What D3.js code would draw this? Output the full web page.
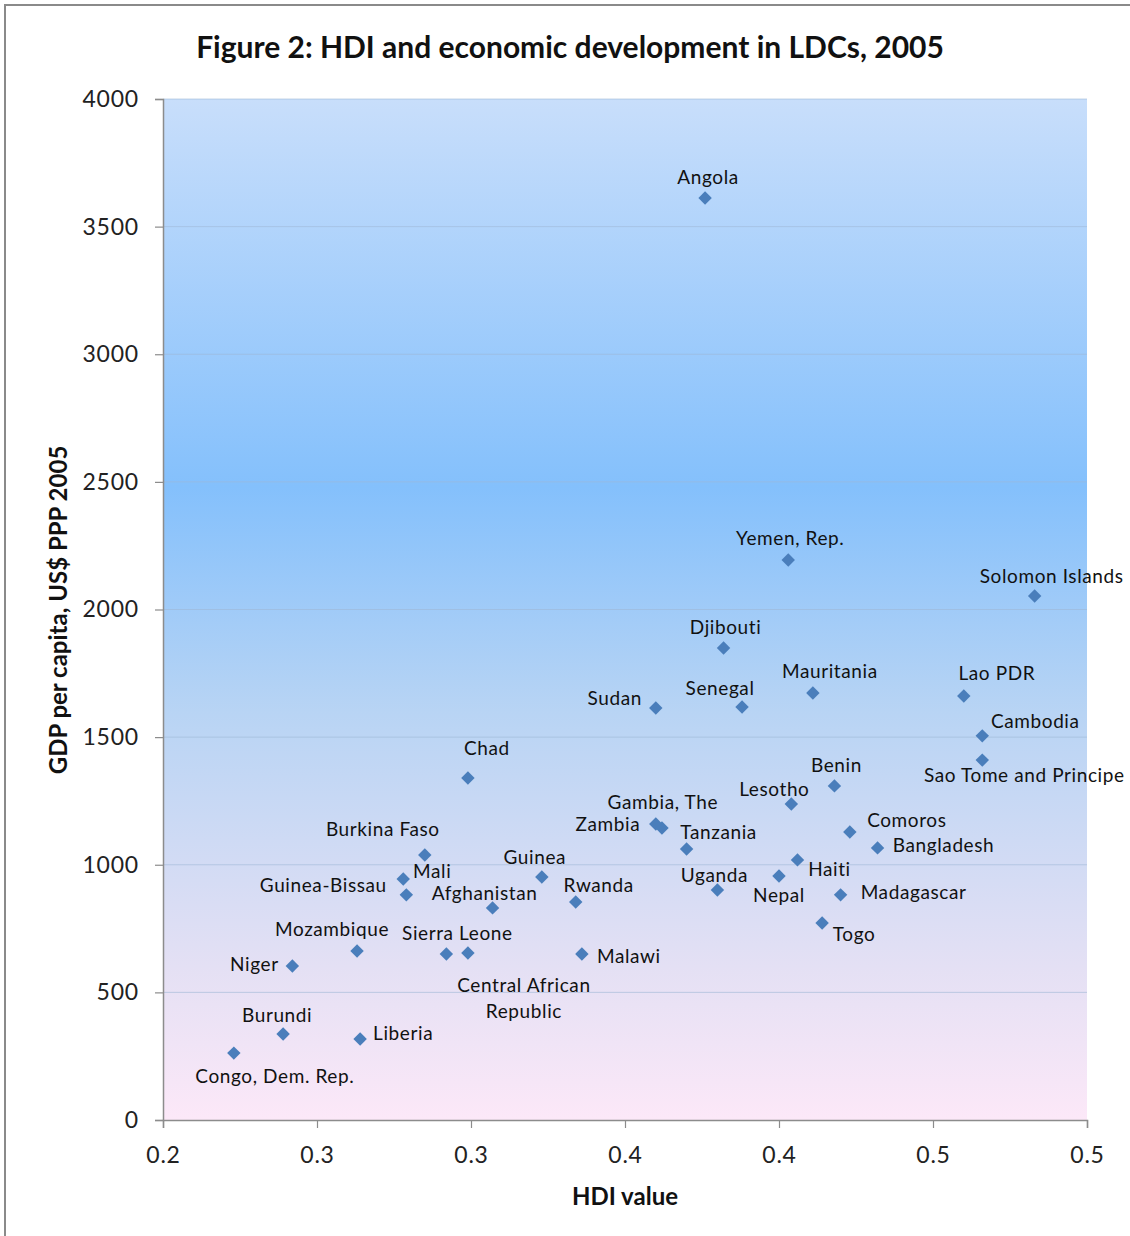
<!DOCTYPE html>
<html><head><meta charset="utf-8">
<script src="https://cdn.jsdelivr.net/npm/d3@7"></script>
<style>
html,body{margin:0;padding:0;background:#fff;}
text{font-family:Lato,"Open Sans",sans-serif;}
</style></head>
<body><svg id="c" width="1130" height="1236"></svg>
<script>
const countries = ["Angola","Yemen, Rep.","Solomon Islands","Djibouti","Mauritania","Lao PDR","Sudan","Senegal","Cambodia","Sao Tome and Principe","Chad","Benin","Lesotho","Gambia, The","Zambia","Tanzania","Comoros","Bangladesh","Haiti","Nepal","Uganda","Madagascar","Togo","Malawi","Rwanda","Burkina Faso","Mali","Guinea-Bissau","Guinea","Afghanistan","Mozambique","Sierra Leone","Central African Republic","Niger","Burundi","Liberia","Congo, Dem. Rep."];
const hdi = [0.376,0.403,0.483,0.382,0.411,0.460,0.360,0.388,0.466,0.466,0.299,0.418,0.404,0.360,0.362,0.370,0.423,0.432,0.406,0.400,0.380,0.420,0.414,0.336,0.334,0.285,0.278,0.279,0.323,0.307,0.263,0.292,0.299,0.242,0.239,0.264,0.223];
const gdp = [3612,2194,2053,1849,1673,1661,1614,1618,1505,1410,1340,1309,1238,1160,1144,1062,1128,1066,1019,956,901,882,772,650,854,1038,944,882,952,831,662,650,654,603,337,317,262];
const xTicks = [0.2,0.25,0.3,0.35,0.4,0.45,0.5];
const xTickLabels = ["0.2","0.3","0.3","0.4","0.4","0.5","0.5"];
const yTicks = [0,500,1000,1500,2000,2500,3000,3500,4000];

// label layout (offsets of label centre from the marker, px)
const labelOffsets = {
 "Angola":[3,-22],"Yemen, Rep.":[2,-22],"Solomon Islands":[17,-20],"Djibouti":[2,-22],
 "Mauritania":[17,-22],"Lao PDR":[33,-24],"Sudan":[-41,-11],"Senegal":[-22,-20],
 "Cambodia":[53,-15],"Sao Tome and Principe":[42,14],"Chad":[19,-30],"Benin":[2,-21],
 "Lesotho":[-17,-16],"Gambia, The":[7,-22],"Zambia":[-54,-4],"Tanzania":[32,-17],
 "Comoros":[57,-13],"Bangladesh":[66,-3],"Haiti":[32,9],"Nepal":[0,19],"Uganda":[-3,-16],
 "Madagascar":[73,-3],"Togo":[32,11],"Malawi":[47,1],"Rwanda":[23,-18],"Burkina Faso":[-42,-27],
 "Mali":[29,-9],"Guinea-Bissau":[-83,-10],"Guinea":[-7,-21],"Afghanistan":[-8,-15],
 "Mozambique":[-25,-23],"Sierra Leone":[11,-22],"Central African Republic":[56,31],
 "Niger":[-38,-3],"Burundi":[-6,-19],"Liberia":[43,-7],"Congo, Dem. Rep.":[41,22]
};
const labelLines = {"Central African Republic":["Central African","Republic"]};

const svg = d3.select("#c");
const L=163,R=1087,T=99,B=1120;
const x = d3.scaleLinear().domain([0.2,0.5]).range([L,R]);
const y = d3.scaleLinear().domain([0,4000]).range([B,T]);

// frame
svg.append("rect").attr("x",5).attr("y",5).attr("width",1140).attr("height",1240)
  .attr("fill","#fff").attr("stroke","#8a8a8a").attr("stroke-width",2);

// gradient
const defs = svg.append("defs");
const g = defs.append("linearGradient").attr("id","bg").attr("x1",0).attr("y1",0).attr("x2",0).attr("y2",1);
[[0,"#c8defb"],[0.38,"#84c0fc"],[0.6,"#b8d4f4"],[0.85,"#e4e0f4"],[1,"#fce8f8"]].forEach(s=>
  g.append("stop").attr("offset",s[0]).attr("stop-color",s[1]));
svg.append("rect").attr("x",L).attr("y",T).attr("width",R-L).attr("height",B-T).attr("fill","url(#bg)");

// gridlines
svg.append("g").selectAll("line").data(yTicks.filter(d=>d>0)).join("line")
  .attr("x1",L).attr("x2",R).attr("y1",d=>y(d)).attr("y2",d=>y(d))
  .attr("stroke","#9fb8d6").attr("stroke-opacity",0.6).attr("stroke-width",1);

// axes
const yAxis = svg.append("g").attr("transform",`translate(${L},0)`)
  .call(d3.axisLeft(y).tickValues(yTicks).tickSize(8).tickPadding(16).tickFormat(d3.format("d")));
const xAxis = svg.append("g").attr("transform",`translate(0,${B})`)
  .call(d3.axisBottom(x).tickValues(xTicks).tickSize(8).tickPadding(19).tickFormat((d,i)=>xTickLabels[i]));
[yAxis,xAxis].forEach(a=>{
  a.select(".domain").attr("stroke","#8c8c8c").attr("stroke-width",1.5);
  a.selectAll(".tick line").attr("stroke","#8c8c8c").attr("stroke-width",1.2);
  a.selectAll("text").attr("font-family","Lato").attr("font-size",23).attr("letter-spacing",0.8).attr("fill","#222");
});

// axis titles
svg.append("text").attr("x",625).attr("y",1205).attr("text-anchor","middle")
  .attr("font-size",24).attr("font-weight","bold").attr("fill","#111").text("HDI value");
svg.append("text").attr("transform","translate(67,610) rotate(-90)").attr("text-anchor","middle")
  .attr("font-size",24).attr("font-weight","bold").attr("fill","#111").text("GDP per capita, US$ PPP 2005");
svg.append("text").attr("x",570).attr("y",58).attr("text-anchor","middle")
  .attr("font-size",30).attr("font-weight","bold").attr("fill","#111")
  .text("Figure 2: HDI and economic development in LDCs, 2005");

// points
const pts = countries.map((c,i)=>({c,h:hdi[i],g:gdp[i]}));
svg.append("g").selectAll("path").data(pts).join("path")
  .attr("d",d3.symbol(d3.symbolDiamond2,115))
  .attr("transform",d=>`translate(${x(d.h)},${y(d.g)})`)
  .attr("fill","#4a7ebb");

// labels
const lab = svg.append("g");
pts.forEach(d=>{
  const o = labelOffsets[d.c]; const lines = labelLines[d.c]||[d.c];
  lines.forEach((t,k)=>{
    lab.append("text").attr("x",x(d.h)+o[0]).attr("y",y(d.g)+o[1]+k*26)
      .attr("text-anchor","middle").attr("dominant-baseline","central")
      .attr("font-size",19).attr("letter-spacing",0.6).attr("fill","#111").text(t);
  });
});
</script></body></html>
